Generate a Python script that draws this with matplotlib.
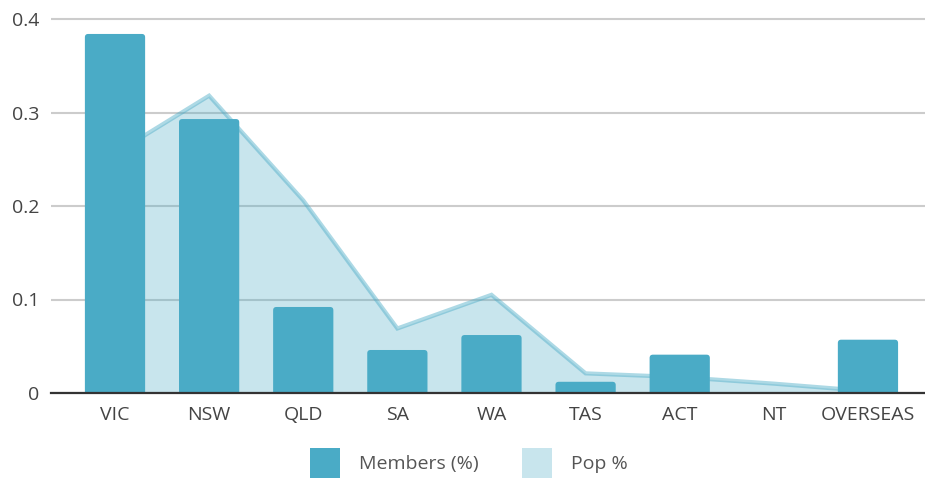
import matplotlib
matplotlib.use("Agg")
import matplotlib.pyplot as plt
from matplotlib.patches import FancyBboxPatch, Patch
import numpy as np

categories = ["VIC", "NSW", "QLD", "SA", "WA", "TAS", "ACT", "NT", "OVERSEAS"]
members = [0.384, 0.293, 0.092, 0.046, 0.062, 0.012, 0.041, 0.0, 0.057]
pop = [0.256, 0.318, 0.206, 0.069, 0.105, 0.021, 0.017, 0.010, 0.002]
yticks = [0, 0.1, 0.2, 0.3, 0.4]
ytick_labels = ["0", "0.1", "0.2", "0.3", "0.4"]

bar_color = "#4aabc6"
plt.rcParams["font.family"] = ["Open Sans", "DejaVu Sans"]

fig = plt.figure(figsize=(9.25, 4.78), dpi=100)
ax = fig.add_axes([51 / 925, 1 - 393 / 478, 1 - 51 / 925, (393 - 9.65) / 478])

x = np.arange(len(categories))

# area (Pop %)
ax.fill_between(x, 0, pop, color=bar_color, alpha=0.3, linewidth=0, zorder=2)
ax.plot(x, pop, color=bar_color, alpha=0.45, linewidth=3, solid_joinstyle="miter", zorder=2.5)

# bars with rounded tops
bars = ax.bar(x, members, width=0.64, color=bar_color, zorder=3)
for b in bars:
    b.set_visible(False)
    h = b.get_height()
    if h <= 0:
        continue
    ext = 0.01
    p = FancyBboxPatch((b.get_x(), -ext), b.get_width(), h + ext,
                       boxstyle="round,pad=0,rounding_size=0.035",
                       mutation_aspect=0.1,
                       facecolor=bar_color, edgecolor="none", zorder=3)
    ax.add_patch(p)

ax.set_xlim(-0.68, 8.606)
ax.set_ylim(0, 0.41)
ax.set_yticks(yticks)
ax.set_yticklabels(ytick_labels)
ax.set_xticks(x)
ax.set_xticklabels(categories)
ax.yaxis.grid(True, color="#cccccc", linewidth=1.5, zorder=1)
ax.set_axisbelow(True)
for s in ["top", "right", "left"]:
    ax.spines[s].set_visible(False)
ax.spines["bottom"].set_color("#333333")
ax.spines["bottom"].set_linewidth(1.6)
ax.spines["bottom"].set_zorder(4)
ax.tick_params(axis="both", length=0, labelsize=14, colors="#444444")
ax.tick_params(axis="y", pad=8.5)
ax.tick_params(axis="x", pad=9.5)

handles = [Patch(facecolor=bar_color, edgecolor="none", label="Members (%)"),
           Patch(facecolor=bar_color, alpha=0.3, edgecolor="none", label="Pop %")]
leg = fig.legend(handles=handles, loc="center", bbox_to_anchor=(469 / 925, 1 - 463 / 478),
                 ncol=2, frameon=False, fontsize=14, handlelength=1.55, handleheight=2.0,
                 handletextpad=1.0, columnspacing=2.2, borderpad=0)
for t in leg.get_texts():
    t.set_color("#555555")

fig.savefig("out.png", dpi=100)
